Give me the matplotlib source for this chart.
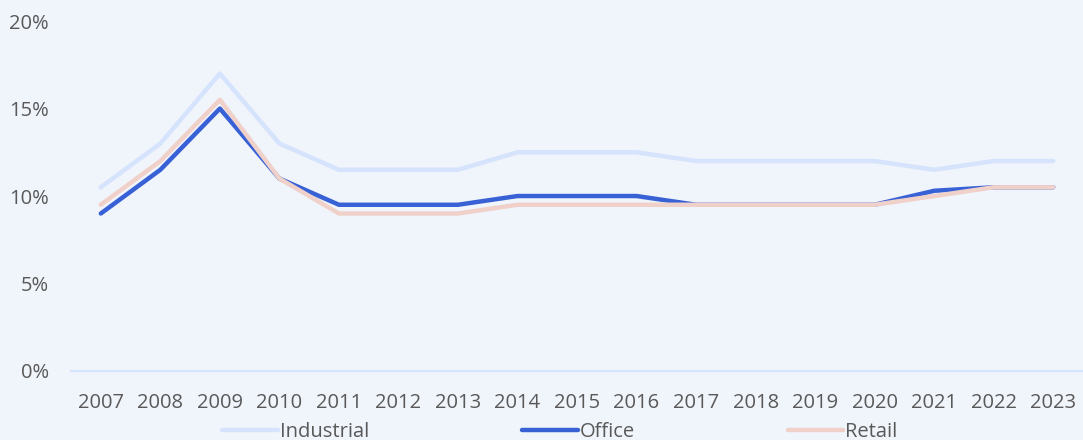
import numpy as np
import matplotlib.pyplot as plt
from matplotlib.ticker import PercentFormatter

years = [str(y) for y in range(2007, 2024)]
industrial = [10.5, 13, 17, 13, 11.5, 11.5, 11.5, 12.5, 12.5, 12.5, 12, 12, 12, 12, 11.5, 12, 12]
office = [9, 11.5, 15, 11, 9.5, 9.5, 9.5, 10, 10, 10, 9.5, 9.5, 9.5, 9.5, 10.3, 10.5, 10.5]
retail = [9.5, 12, 15.5, 11, 9, 9, 9, 9.5, 9.5, 9.5, 9.5, 9.5, 9.5, 9.5, 10, 10.5, 10.5]

bg = "#f0f4fb"
txt = "#595959"
plt.rcParams['font.family'] = ['Open Sans', 'DejaVu Sans']

fig = plt.figure(figsize=(10.83, 4.40), dpi=100, facecolor=bg)
ax = fig.add_axes([0.0656, 0.157, 0.9344, 0.795], facecolor=bg)

x = np.arange(len(years))
ax.plot(x, industrial, color="#d6e3fc", lw=3.2, label="Industrial", solid_capstyle="round")
ax.plot(x, office, color="#3861d6", lw=3.2, label="Office", solid_capstyle="round")
ax.plot(x, retail, color="#f0d1ca", lw=3.2, label="Retail", solid_capstyle="round")

ax.set_xlim(-0.5, len(years) - 0.5)
ax.set_ylim(0, 20)
ax.set_yticks([0, 5, 10, 15, 20])
ax.yaxis.set_major_formatter(PercentFormatter(decimals=0))
ax.set_xticks(x)
ax.set_xticklabels(years)
ax.tick_params(length=0, labelsize=14.5, colors=txt)
ax.tick_params(axis='x', pad=16)
ax.tick_params(axis='y', pad=16)
for s in ["top", "right", "left"]:
    ax.spines[s].set_visible(False)
ax.spines["bottom"].set_color("#d6e3fc")
ax.spines["bottom"].set_linewidth(1.5)

fig.legend(loc="lower center", bbox_to_anchor=(0.517, -0.045), ncol=3, frameon=False,
           fontsize=14.5, labelcolor=txt, columnspacing=7.6, handlelength=2.75,
           handletextpad=0.1)

fig.savefig("out.png", dpi=100, facecolor=bg)
